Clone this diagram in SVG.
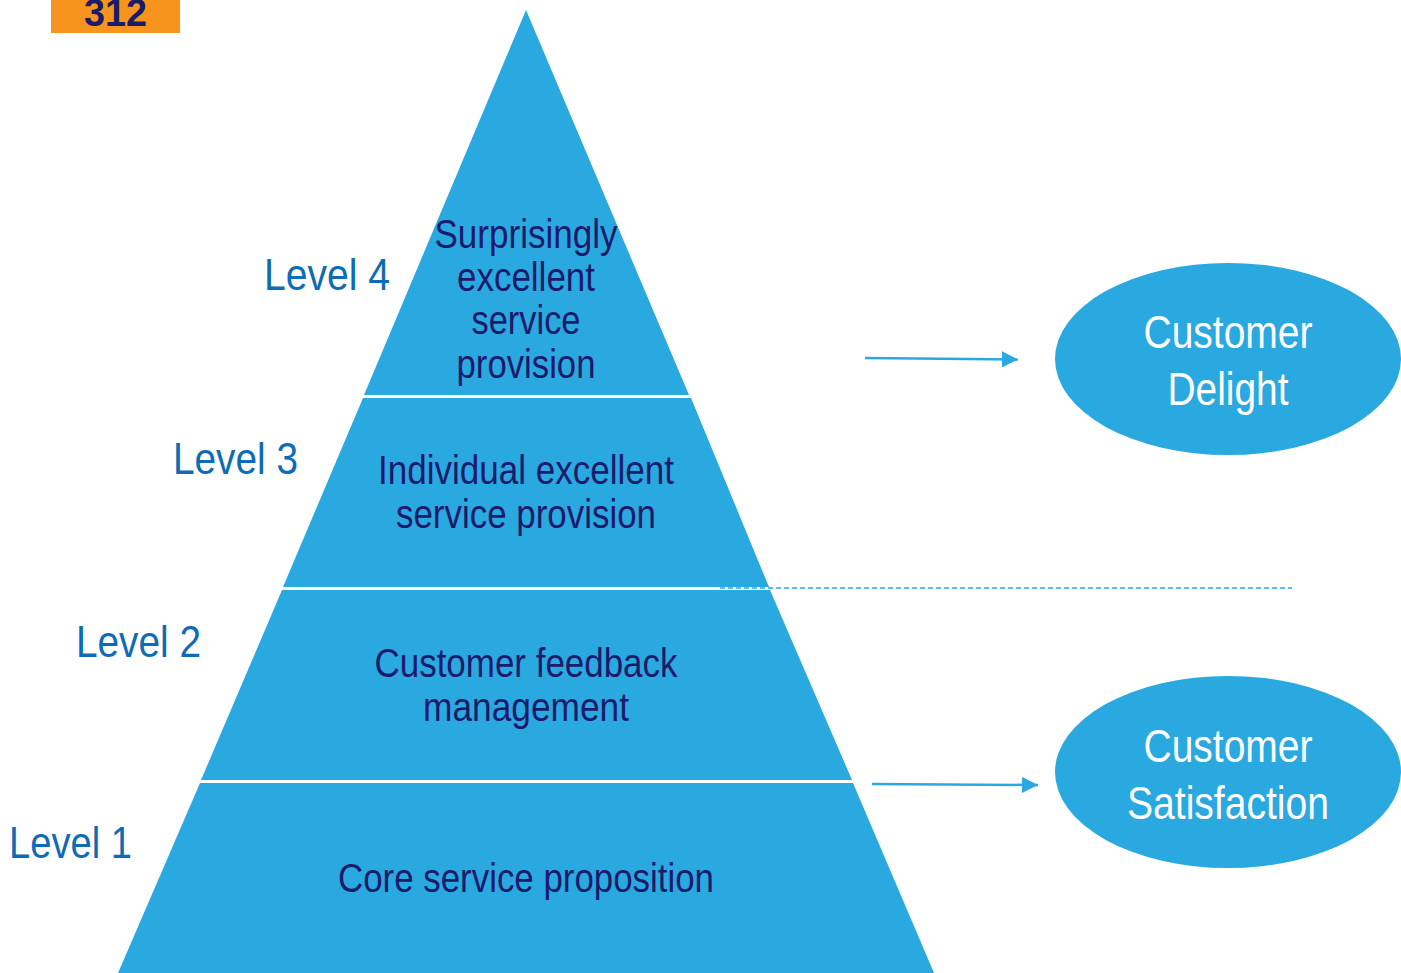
<svg xmlns="http://www.w3.org/2000/svg" width="1401" height="973" viewBox="0 0 1401 973">
<style>
.tier{fill:#29A9E0}
.pt{font-family:"Liberation Sans",Arial,sans-serif;font-size:40px;fill:#1B1A6B;text-anchor:middle}
.lv{font-family:"Liberation Sans",Arial,sans-serif;font-size:44px;fill:#0E6BB5}
.et{font-family:"Liberation Sans",Arial,sans-serif;font-size:46px;fill:#FFFFFF;text-anchor:middle}
.conn{stroke:#29A9E0;stroke-width:2.5;fill:none}
</style>
<defs>
<marker id="ah" viewBox="0 0 10 10" refX="10" refY="5" markerWidth="16" markerHeight="16" orient="auto" markerUnits="userSpaceOnUse">
<path d="M0,0 L10,5 L0,10 z" fill="#29A9E0"/>
</marker>
</defs>
<rect width="1401" height="973" fill="#FFFFFF"/>
<g id="badge">
<rect x="51" y="0" width="129" height="33" fill="#F7941D"/>
<text x="115.5" y="26" font-family="Liberation Sans,Arial,sans-serif" font-size="38" font-weight="bold" fill="#1B1A6B" text-anchor="middle" textLength="63" lengthAdjust="spacingAndGlyphs">312</text>
</g>
<g id="level4">
<polygon class="tier" points="526,10 689,395 364,395"/>
<text class="pt" x="526" y="248" textLength="183" lengthAdjust="spacingAndGlyphs">Surprisingly</text>
<text class="pt" x="526" y="291" textLength="138" lengthAdjust="spacingAndGlyphs">excellent</text>
<text class="pt" x="526" y="334" textLength="109" lengthAdjust="spacingAndGlyphs">service</text>
<text class="pt" x="526" y="378" textLength="139" lengthAdjust="spacingAndGlyphs">provision</text>
</g>
<g id="level3">
<polygon class="tier" points="691,398 769,587 283,587 363,398"/>
<text class="pt" x="526" y="484" textLength="296" lengthAdjust="spacingAndGlyphs">Individual excellent</text>
<text class="pt" x="526" y="528" textLength="260" lengthAdjust="spacingAndGlyphs">service provision</text>
</g>
<g id="level2">
<polygon class="tier" points="770,590 852,780 201,780 282,590"/>
<text class="pt" x="526" y="677" textLength="303" lengthAdjust="spacingAndGlyphs">Customer feedback</text>
<text class="pt" x="526" y="721" textLength="206" lengthAdjust="spacingAndGlyphs">management</text>
</g>
<g id="level1">
<polygon class="tier" points="853,783 934,973 118,973 200,783"/>
<text class="pt" x="526" y="892" textLength="376" lengthAdjust="spacingAndGlyphs">Core service proposition</text>
</g>
<g id="labels">
<text class="lv" x="264" y="290" textLength="126" lengthAdjust="spacingAndGlyphs">Level 4</text>
<text class="lv" x="173" y="474" textLength="125" lengthAdjust="spacingAndGlyphs">Level 3</text>
<text class="lv" x="76" y="657" textLength="125" lengthAdjust="spacingAndGlyphs">Level 2</text>
<text class="lv" x="9" y="858" textLength="123" lengthAdjust="spacingAndGlyphs">Level 1</text>
</g>
<g id="delight">
<ellipse cx="1228" cy="359" rx="173" ry="96" fill="#29A9E0"/>
<text class="et" x="1228" y="348" textLength="169" lengthAdjust="spacingAndGlyphs">Customer</text>
<text class="et" x="1228" y="405" textLength="121" lengthAdjust="spacingAndGlyphs">Delight</text>
</g>
<g id="satisfaction">
<ellipse cx="1228" cy="772" rx="173" ry="96" fill="#29A9E0"/>
<text class="et" x="1228" y="762" textLength="169" lengthAdjust="spacingAndGlyphs">Customer</text>
<text class="et" x="1228" y="819" textLength="202" lengthAdjust="spacingAndGlyphs">Satisfaction</text>
</g>
<g id="connectors">
<line class="conn" x1="865" y1="358" x2="1018" y2="359.5" marker-end="url(#ah)"/>
<line class="conn" x1="872" y1="784" x2="1038" y2="785" marker-end="url(#ah)"/>
<line x1="720" y1="588" x2="1292" y2="588" stroke="#29A9E0" stroke-width="1.5" stroke-dasharray="5,3"/>
</g>
</svg>
